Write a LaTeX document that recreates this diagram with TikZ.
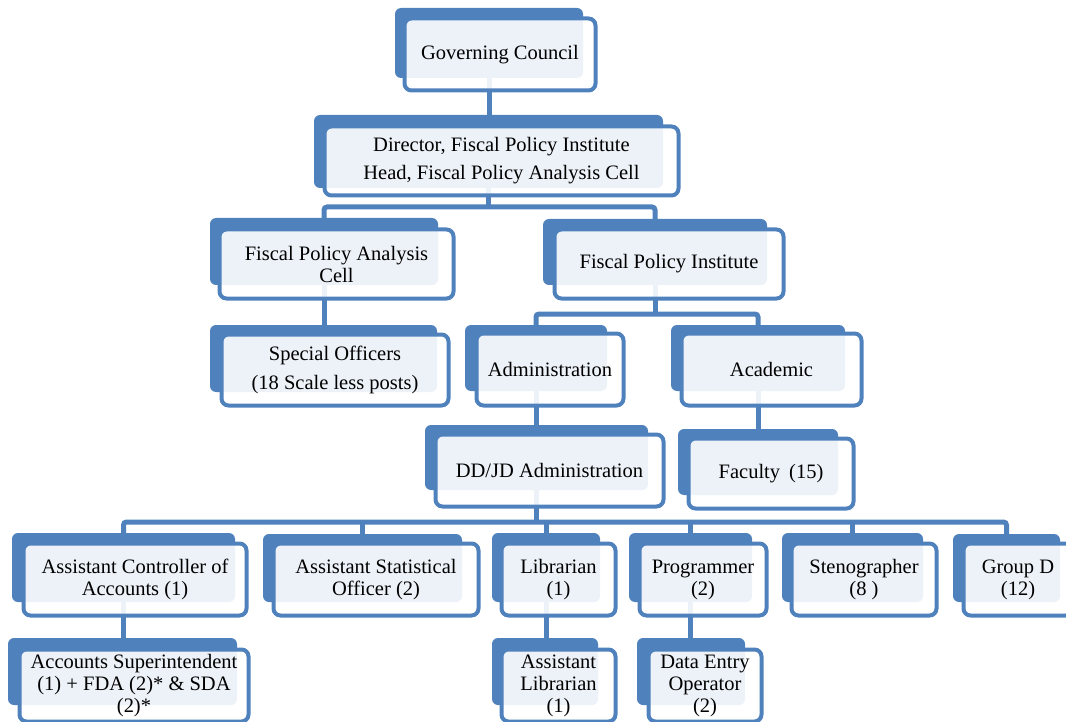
\documentclass[tikz,border=0pt]{standalone}
\usepackage{fontspec}
\setmainfont{Liberation Serif}
\usetikzlibrary{backgrounds}
\definecolor{obl}{HTML}{4F81BD}
\tikzset{
  backbox/.style={fill=obl, draw=none, rounded corners=6pt, inner sep=0pt},
  frontbox/.style={draw=obl, line width=4pt, fill=white, fill opacity=0.9, text opacity=1,
    rounded corners=7pt, inner sep=0pt, align=center,
    font=\fontsize{20.5}{22}\selectfont},
  conn/.style={draw=obl, line width=5pt, rounded corners=3pt}
}
\begin{document}
\begin{tikzpicture}[x=1pt,y=-1pt]
\useasboundingbox (0,0) rectangle (1066,722);
% Governing Council
\node[backbox, minimum width=188, minimum height=70] (gcb) at (489,43) {};
\node[frontbox, minimum width=191, minimum height=72] (gc) at (500,54.5) {Governing Council};
% Director
\node[backbox, minimum width=349, minimum height=73] (dirb) at (488.5,151.5) {};
\node[frontbox, minimum width=354, minimum height=69] (dir) at (501.5,161) {Director, Fiscal Policy Institute\\[6pt]Head, Fiscal Policy Analysis Cell};
% Fiscal Policy Analysis Cell
\node[backbox, minimum width=228, minimum height=67] (fpacb) at (324,251.5) {};
\node[frontbox, minimum width=234, minimum height=69] (fpac) at (336.5,264) {Fiscal Policy Analysis\\Cell};
% Fiscal Policy Institute
\node[backbox, minimum width=224, minimum height=66] (fpib) at (655,252) {};
\node[frontbox, minimum width=229, minimum height=69] (fpi) at (669,264) {Fiscal Policy Institute};
% Special Officers
\node[backbox, minimum width=227, minimum height=67] (sob) at (323.5,358.5) {};
\node[frontbox, minimum width=227, minimum height=71] (so) at (335,370) {Special Officers\\[7pt](18 Scale less posts)};
% Administration
\node[backbox, minimum width=142, minimum height=66] (admb) at (536,358) {};
\node[frontbox, minimum width=147, minimum height=72] (adm) at (550,369.5) {Administration};
% Academic
\node[backbox, minimum width=174, minimum height=66] (acab) at (758,358) {};
\node[frontbox, minimum width=180, minimum height=72] (aca) at (771.5,369.5) {Academic};
% DD/JD Administration
\node[backbox, minimum width=223, minimum height=65] (ddb) at (536.5,457.5) {};
\node[frontbox, minimum width=228, minimum height=72] (dd) at (549.5,470.5) {DD/JD Administration};
% Faculty
\node[backbox, minimum width=160, minimum height=66] (facb) at (758,462) {};
\node[frontbox, minimum width=165, minimum height=70] (fac) at (771,473.5) {Faculty\hspace{9pt}(15)};
% Bottom row
\node[backbox, minimum width=223, minimum height=69] (acob) at (123.5,567.5) {};
\node[frontbox, minimum width=223, minimum height=72] (aco) at (135,579.5) {Assistant Controller of\\Accounts (1)};
\node[backbox, minimum width=199, minimum height=68] (asob) at (362.5,568) {};
\node[frontbox, minimum width=205, minimum height=72] (aso) at (376,579.5) {Assistant Statistical\\Officer (2)};
\node[backbox, minimum width=108, minimum height=69] (libb) at (546,567.5) {};
\node[frontbox, minimum width=114, minimum height=72] (lib) at (558.5,579.5) {Librarian\\(1)};
\node[backbox, minimum width=123, minimum height=69] (progb) at (690.5,567.5) {};
\node[frontbox, minimum width=127, minimum height=72] (prog) at (703,579.5) {Programmer\\(2)};
\node[backbox, minimum width=141, minimum height=69] (stenob) at (852.5,567.5) {};
\node[frontbox, minimum width=145, minimum height=72] (steno) at (864,579.5) {Stenographer\\(8 )};
\node[backbox, minimum width=107, minimum height=68] (grpdb) at (1006.5,568) {};
\node[frontbox, minimum width=109, minimum height=72] (grpd) at (1018,579.5) {Group D\\(12)};
% Lowest row
\node[backbox, minimum width=229, minimum height=67] (asb) at (122.5,671.5) {};
\node[frontbox, minimum width=229, minimum height=72] (as) at (134,685.5) {Accounts Superintendent\\(1) + FDA (2)* \& SDA\\(2)*};
\node[backbox, minimum width=106, minimum height=67] (alibb) at (545,671.5) {};
\node[frontbox, minimum width=114, minimum height=72] (alib) at (558.5,685.5) {Assistant\\Librarian\\(1)};
\node[backbox, minimum width=108, minimum height=67] (deob) at (691,671.5) {};
\node[frontbox, minimum width=113, minimum height=72] (deo) at (705,685.5) {Data Entry\\Operator\\(2)};
% bus coordinates
\coordinate (bus1) at (489,207);
\coordinate (bus2) at (655,314);
\coordinate (bus3) at (536,522);
\begin{pgfonlayer}{background}
\draw[conn] (gcb.south) -- (gcb.south |- dirb.north);
\draw[conn] (dirb.south) -- (dirb.south |- bus1);
\draw[conn] (fpacb.north) |- (bus1) -| (fpib.north);
\draw[conn] (fpacb.south) -- (fpacb.south |- sob.north);
\draw[conn] (fpib.south) -- (fpib.south |- bus2);
\draw[conn] (admb.north) |- (bus2) -| (acab.north);
\draw[conn] (admb.south) -- (admb.south |- ddb.north);
\draw[conn] (acab.south) -- (acab.south |- facb.north);
\draw[conn] (ddb.south) -- (ddb.south |- bus3);
\draw[conn] (acob.north) |- (bus3) -| (grpdb.north);
\foreach \n in {asob,libb,progb,stenob} {\draw[conn] (\n.north) -- (\n.north |- bus3);}
\draw[conn] (acob.south) -- (acob.south |- asb.north);
\draw[conn] (libb.south) -- (libb.south |- alibb.north);
\draw[conn] (progb.south) -- (progb.south |- deob.north);
\end{pgfonlayer}
\end{tikzpicture}
\end{document}
